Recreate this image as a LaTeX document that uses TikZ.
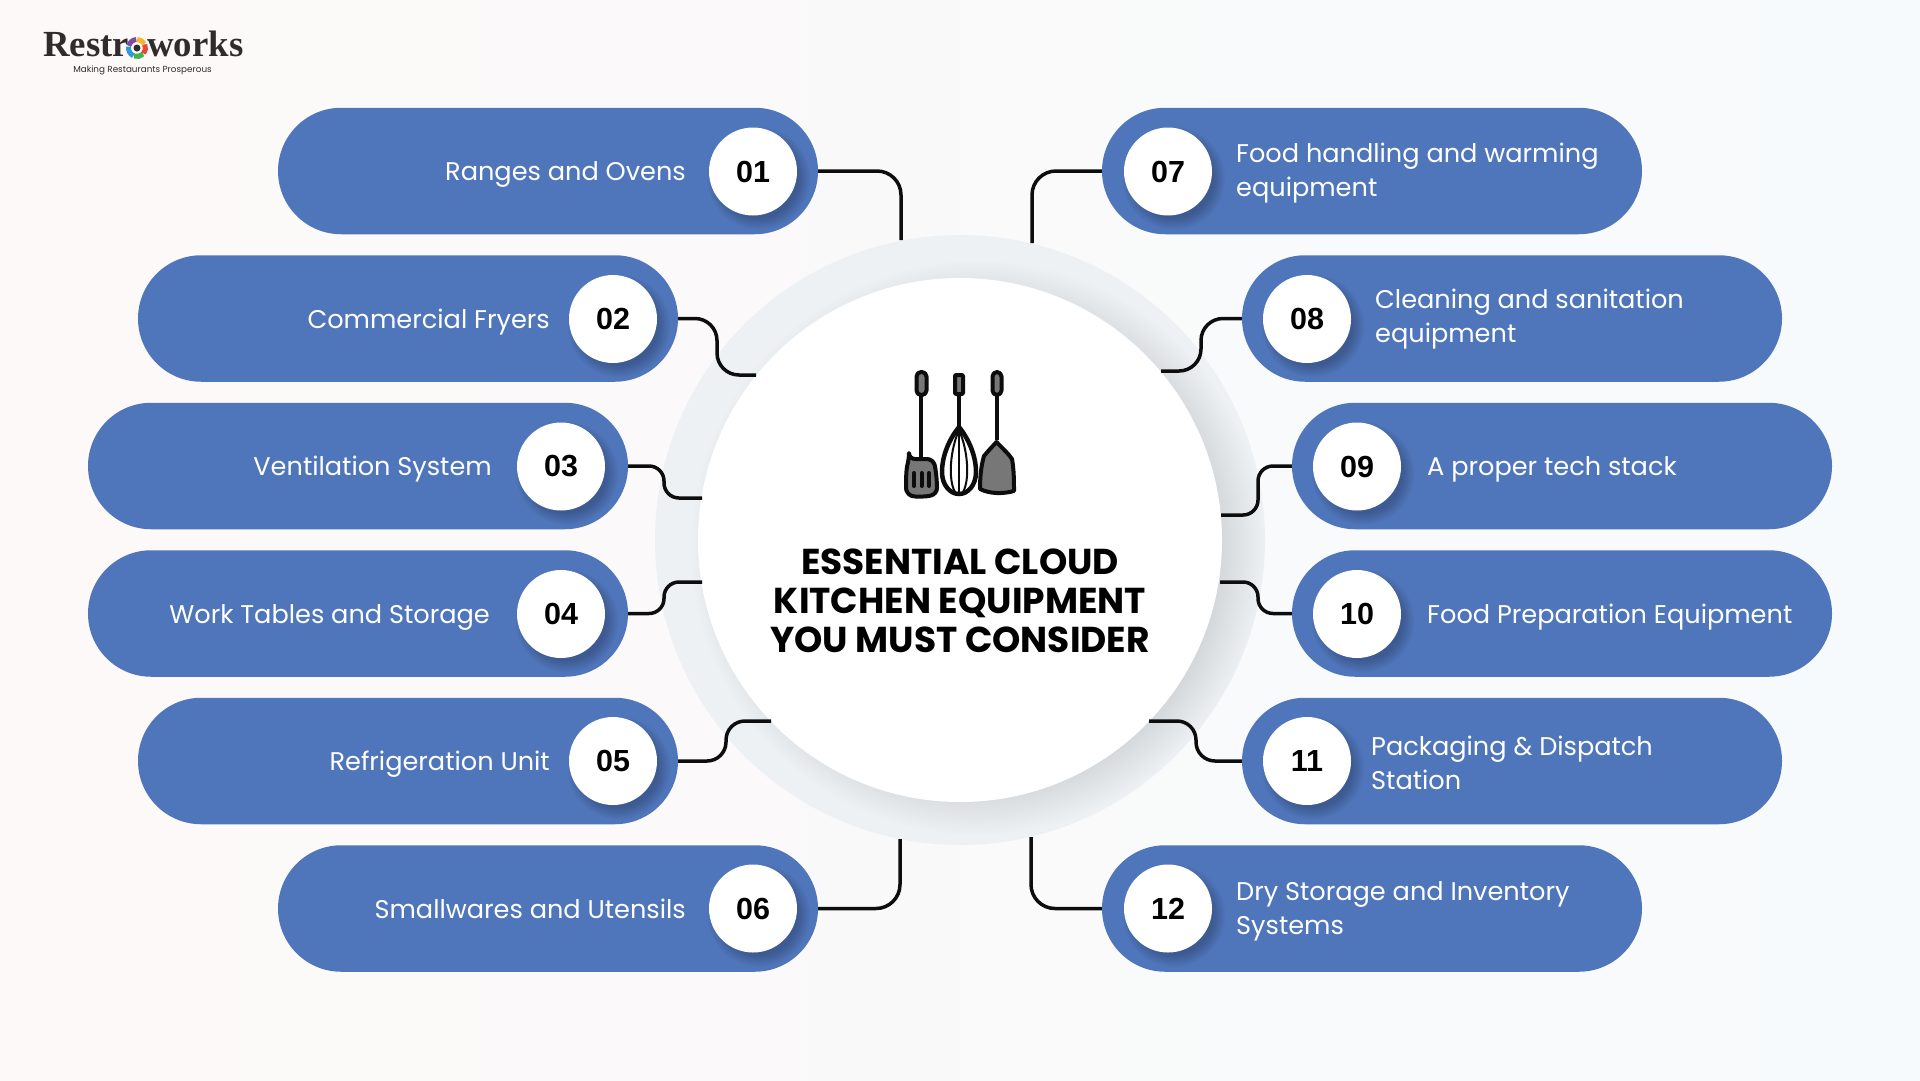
\documentclass[tikz,border=0pt]{standalone}
\usepackage{fontspec}
\setmainfont{Poppins}
\newfontfamily\logofont{Liberation Serif}
\newfontfamily\numfont{Liberation Sans}
\usetikzlibrary{shapes.misc}
\definecolor{pillblue}{HTML}{4F75BA}
\definecolor{ringgrey}{HTML}{EDF1F4}
\definecolor{ink}{HTML}{0D0D0D}
\definecolor{toolgrey}{HTML}{777777}
\definecolor{logoink}{HTML}{2F2C2B}
\definecolor{logobg}{HTML}{FDF9F8}
\definecolor{bgleft}{HTML}{FDF9F8}
\definecolor{bgmid}{HTML}{FBFBFC}
\definecolor{bgright}{HTML}{F7FAFC}
\tikzset{
  pill/.style={shape=rounded rectangle,fill=pillblue,minimum width=540pt,minimum height=126.5pt,inner sep=0pt},
  badge/.style={circle,fill=white,minimum size=88pt,inner sep=0pt,font=\numfont\fontsize{30.5}{30.5}\selectfont\bfseries,text=black},
  lefttext/.style={anchor=east,inner sep=0pt,yshift=-3.5pt,text=white,align=right,font=\fontsize{25.6}{34}\selectfont},
  righttext/.style={anchor=west,inner sep=0pt,yshift=-3.5pt,text=white,align=left,font=\fontsize{25.6}{34}\selectfont},
  conn/.style={draw=ink,line width=3.5pt},
  tool/.style={draw=ink,line width=4pt,fill=toolgrey,line join=round},
  softdot/.style={fill=black,opacity=0.022},
  hubshade/.style={fill=black,opacity=0.005}
}
\newcommand{\softshadow}[4]{%
  \foreach \k in {0,...,#4}{\fill[softdot] (#1,#2) circle ({#3+\k*1.4});}}
\begin{document}
\begin{tikzpicture}[x=1pt,y=-1pt]
\useasboundingbox (0,0) rectangle (1920,1080);
\shade[left color=bgleft,middle color=bgmid,right color=bgright] (0,0) rectangle (1920,1080);
% centre
\fill[ringgrey] (960,540) circle (305);
\begin{scope}
\clip (960,540) circle (305);
\foreach \k in {0,...,24}{\fill[hubshade] (978,548) circle ({244+\k*1.8});}
\end{scope}
\node[circle,fill=white,minimum size=524pt,inner sep=0pt] (hub) at (960,540) {};
% free ends
\coordinate (e1) at (901,240);
\coordinate (v2) at (717,346); \coordinate (e2) at (756,375);
\coordinate (v3) at (664,482); \coordinate (e3) at (702,498);
\coordinate (v4) at (664,598); \coordinate (e4) at (702,582);
\coordinate (v5) at (726,740); \coordinate (e5) at (771,721);
\coordinate (e6) at (900,839);
\coordinate (e7) at (1032,243);
\coordinate (v8) at (1201,345); \coordinate (e8) at (1161,371);
\coordinate (v9) at (1258,490); \coordinate (e9) at (1221,515);
\coordinate (v10) at (1258,598); \coordinate (e10) at (1220,582);
\coordinate (v11) at (1196,740); \coordinate (e11) at (1149,721);
\coordinate (e12) at (1031,837);
% pills
\node[pill] (p1) at (548,171) {};
\node[pill] (p2) at (408,318.5) {};
\node[pill] (p3) at (358,466) {};
\node[pill] (p4) at (358,613.5) {};
\node[pill] (p5) at (408,761) {};
\node[pill] (p6) at (548,908.5) {};
\node[pill] (p7) at (1372,171) {};
\node[pill] (p8) at (1512,318.5) {};
\node[pill] (p9) at (1562,466) {};
\node[pill] (p10) at (1562,613.5) {};
\node[pill] (p11) at (1512,761) {};
\node[pill] (p12) at (1372,908.5) {};
% connectors
\draw[conn,rounded corners=24pt] (p1.east) -| (e1);
\draw[conn,rounded corners=22pt] (p2.east) -- (p2.east -| v2) -- (v2 |- e2) -- (e2);
\draw[conn,rounded corners=15pt] (p3.east) -- (p3.east -| v3) -- (v3 |- e3) -- (e3);
\draw[conn,rounded corners=15pt] (p4.east) -- (p4.east -| v4) -- (v4 |- e4) -- (e4);
\draw[conn,rounded corners=19pt] (p5.east) -- (p5.east -| v5) -- (v5 |- e5) -- (e5);
\draw[conn,rounded corners=24pt] (p6.east) -| (e6);
\draw[conn,rounded corners=24pt] (p7.west) -| (e7);
\draw[conn,rounded corners=22pt] (p8.west) -- (p8.west -| v8) -- (v8 |- e8) -- (e8);
\draw[conn,rounded corners=15pt] (p9.west) -- (p9.west -| v9) -- (v9 |- e9) -- (e9);
\draw[conn,rounded corners=15pt] (p10.west) -- (p10.west -| v10) -- (v10 |- e10) -- (e10);
\draw[conn,rounded corners=19pt] (p11.west) -- (p11.west -| v11) -- (v11 |- e11) -- (e11);
\draw[conn,rounded corners=24pt] (p12.west) -| (e12);
% badge shadows
\foreach \x/\y in {753/171.5,613/319,561/466.5,561/614,613/761,753/908.5,1168/171.5,1307/319,1357/466.5,1357/614,1307/761,1168/908.5}{
  \softshadow{\x+6}{\y+7}{40}{8}
}
% badges
\node[badge] (b1) at (753,171.5) {01};
\node[badge] (b2) at (613,319) {02};
\node[badge] (b3) at (561,466.5) {03};
\node[badge] (b4) at (561,614) {04};
\node[badge] (b5) at (613,761) {05};
\node[badge] (b6) at (753,908.5) {06};
\node[badge] (b7) at (1168,171.5) {07};
\node[badge] (b8) at (1307,319) {08};
\node[badge] (b9) at (1357,466.5) {09};
\node[badge] (b10) at (1357,614) {10};
\node[badge] (b11) at (1307,761) {11};
\node[badge] (b12) at (1168,908.5) {12};
% labels
\node[lefttext] (l1) at (686,171) {Ranges and Ovens};
\node[lefttext] (l2) at (550,318.5) {Commercial Fryers};
\node[lefttext] (l3) at (492,466) {Ventilation System};
\node[lefttext] (l4) at (490,613.5) {Work Tables and Storage};
\node[lefttext] (l5) at (550,760.5) {Refrigeration Unit};
\node[lefttext] (l6) at (686,905) {Smallwares and Utensils};
\node[righttext] (l7) at (1236,170) {Food handling and warming\\equipment};
\node[righttext] (l8) at (1375,316) {Cleaning and sanitation\\equipment};
\node[righttext] (l9) at (1427,466) {A proper tech stack};
\node[righttext] (l10) at (1427,613.5) {Food Preparation Equipment};
\node[righttext] (l11) at (1371,759.5) {Packaging \& Dispatch\\Station};
\node[righttext] (l12) at (1236,908) {Dry Storage and Inventory\\Systems};
% title
\node[align=center,text=black,font=\fontsize{36}{39}\selectfont\bfseries] (title) at (960,601) {ESSENTIAL CLOUD\\KITCHEN EQUIPMENT\\YOU MUST CONSIDER};
% utensils
\draw[tool] (921,396) -- (921,458);
\draw[tool,rounded corners=4.5pt] (916.5,372) rectangle (926.5,395);
\draw[tool,rounded corners=6pt] (909,459) -- (933,459) .. controls (936,470) and (937,482) .. (937,494) .. controls (925,497) and (915,497) .. (906,494) .. controls (906,482) and (906,470) .. (909,459) -- cycle;
\foreach \x in {914,921.5,929}{\draw[ink,line width=4pt,line cap=round] (\x,473) -- (\x,486);}
\draw[draw=ink,line width=3.5pt] (959,396) -- (959,427);
\draw[tool,rounded corners=1pt] (955,375) rectangle (963,394);
\draw[draw=ink,line width=4.5pt,fill=white] (959,427) .. controls (950,438) and (942,455) .. (942,472) .. controls (942,485) and (950,494) .. (959,494) .. controls (968,494) and (976,485) .. (976,472) .. controls (976,455) and (968,438) .. (959,427) -- cycle;
\draw[ink,line width=2pt] (959,430) .. controls (950,450) and (948,480) .. (955,492);
\draw[ink,line width=2pt] (959,430) .. controls (968,450) and (970,480) .. (963,492);
\draw[ink,line width=2pt] (959,430) -- (959,493);
\draw[tool] (997,396) -- (997,440);
\draw[tool,rounded corners=4.5pt] (992.5,372) rectangle (1001.5,395);
\draw[tool] (996.5,442) .. controls (1003,449) and (1008,453) .. (1012,459) .. controls (1014,470) and (1014,482) .. (1014,491) .. controls (1003,494) and (990,494) .. (980,489) .. controls (980,478) and (981,466) .. (984,456) .. controls (988,451) and (992,447) .. (996.5,442) -- cycle;
% logo
\node[anchor=base west,inner sep=0pt,text=logoink,font=\logofont\fontsize{36.8}{36.8}\selectfont\bfseries] (logo) at (43,56) {Restr{\color{logobg}o}works};
\node[anchor=center,inner sep=0pt,text=logoink,font=\fontsize{8.8}{9}\selectfont] (tag) at (142.5,70) {Making Restaurants Prosperous};
\fill[logobg] (137,48) circle (11);
\foreach \a/\b/\c in {95/165/7B4EA3,170/245/2E9BD6,250/315/3DB54A,320/385/E8463A,30/90/F5B52E}{
  \definecolor{segc}{HTML}{\c}
  \draw[segc,line width=5pt] ({137+8.5*cos(\a)},{48-8.5*sin(\a)}) arc[start angle=-\a,end angle=-\b,radius=8.5];
}
\fill[logoink] (137,48) circle (3.5);
\end{tikzpicture}
\end{document}
